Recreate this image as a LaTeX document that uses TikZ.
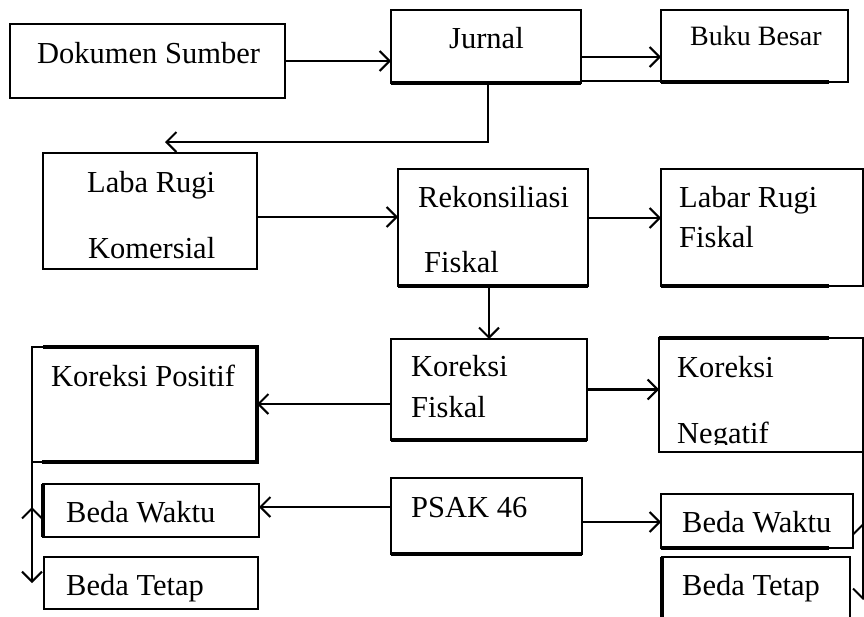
\documentclass[tikz,border=0pt]{standalone}
\usepackage{fontspec}
\setmainfont{Liberation Serif}
\usetikzlibrary{arrows.meta,calc,fit}
\begin{document}
\begin{tikzpicture}[x=1pt,y=-1pt,
  box/.style={draw, line width=1.6pt, inner sep=0pt, outer sep=0pt},
  boldbox/.style={box, line width=2.8pt},
  heavy/.style={line width=3.8pt},
  txt/.style={font=\fontsize{30.5}{36}\selectfont, inner sep=0pt, anchor=base west},
  arr/.style={line width=2.2pt, -{Straight Barb[length=10pt,width=20pt,line width=2pt]}},
  ln/.style={line width=2pt}]
\useasboundingbox (0,0) rectangle (864,616);
\clip (0,0) rectangle (864,616);

% boxes
\node[boldbox, fit={(10,24) (285,98)}] (dok) {};
\node[box, fit={(391,10) (581,83)}] (jur) {};
\node[box, fit={(661,10) (848,82)}] (buku) {};
\node[boldbox, fit={(43,153) (257,269)}] (lrk) {};
\node[box, line width=2.2pt, fit={(398,169) (588,286)}] (rek) {};
\node[box, fit={(661,169) (863,286)}] (lrf) {};
\node[box, fit={(391,339) (587,440)}] (kf) {};
\node[box, fit={(32,347) (257,462)}] (kp) {};
\node[box, fit={(659,338) (863,452)}] (kn) {};
\node[box, line width=2.6pt, fit={(391,478) (582,554)}] (psak) {};
\node[box, line width=2pt, fit={(43,484) (259,537)}] (bwl) {};
\node[box, line width=2pt, fit={(44,557) (258,609)}] (btl) {};
\node[box, line width=2pt, fit={(661,494) (853,548)}] (bwr) {};
\node[box, line width=2pt, fit={(662,557) (850,640)}] (btr) {};

% heavy edges
\draw[heavy] (jur.south west) -- (jur.south east);
\draw[heavy] (buku.south west) -- ($(buku.south west)+(168,0)$);
\draw[heavy] (rek.south west) -- (rek.south east);
\draw[heavy] (lrf.south west) -- ($(lrf.south west)+(168,0)$);
\draw[heavy] (kf.south west) -- (kf.south east);
\draw[heavy] ($(kp.north west)+(11,0)$) -- (kp.north east) -- (kp.south east) -- ($(kp.south west)+(10,0)$);
\draw[heavy] (kn.north west) -- ($(kn.north west)+(170,0)$);
\draw[heavy] (psak.south west) -- (psak.south east);
\draw[heavy] (bwl.north west) -- (bwl.south west);
\draw[heavy] (bwr.south west) -- ($(bwr.south west)+(168,0)$);
\draw[heavy] (btr.north west) -- (btr.south west);

% texts
\node[txt] (t-dok) at (37,63) {Dokumen Sumber};
\node[txt] (t-jur) at (449,48) {Jurnal};
\node[txt, font=\fontsize{28}{33}\selectfont] (t-buku) at (690,45) {Buku Besar};
\node[txt] (t-lrk1) at (87,192) {Laba Rugi};
\node[txt] (t-lrk2) at (88,258) {Komersial};
\node[txt] (t-rek1) at (418,207) {Rekonsiliasi};
\node[txt] (t-rek2) at (424,272) {Fiskal};
\node[txt] (t-lrf1) at (679,207) {Labar Rugi};
\node[txt] (t-lrf2) at (679,247) {Fiskal};
\node[txt] (t-kf1) at (411,376) {Koreksi};
\node[txt] (t-kf2) at (411,417) {Fiskal};
\node[txt] (t-kp) at (51,386) {Koreksi Positif};
\node[txt] (t-kn1) at (677,377) {Koreksi};
\begin{scope}
\clip (659,338) rectangle (863,444);
\node[txt] (t-kn2) at (677,443) {Negatif};
\end{scope}
\node[txt] (t-psak) at (411,517) {PSAK 46};
\node[txt] (t-bwl) at (66,522) {Beda Waktu};
\node[txt] (t-btl) at (66,595) {Beda Tetap};
\node[txt] (t-bwr) at (682,532) {Beda Waktu};
\node[txt] (t-btr) at (682,595) {Beda Tetap};

% connectors
\draw[arr] (dok.east) -- (dok.east -| jur.west);
\coordinate (a1) at ($(jur.east)+(0,10.5)$);
\draw[arr] (a1) -- (a1 -| buku.west);
\coordinate (a2) at ($(jur.south east)+(0,-2)$);
\draw[ln] (a2) -- (a2 -| buku.west);
\coordinate (j1) at ($(jur.south)+(2,0)$);
\coordinate (c1) at (165,142);
\draw[arr] (j1) |- (c1);
\coordinate (a3) at ($(lrk.east)+(0,6)$);
\draw[arr] (a3) -- (a3 -| rek.west);
\coordinate (a4) at ($(rek.east)+(0,-9.5)$);
\draw[arr] (a4) -- (a4 -| lrf.west);
\draw[arr] (rek.south -| kf.north) -- (kf.north);
\coordinate (a5) at ($(kf.west)+(0,14.5)$);
\draw[arr] (a5) -- (a5 -| kp.east);
\draw[arr] (kf.east) -- (kf.east -| kn.west);
\coordinate (a6) at ($(psak.west)+(0,-9)$);
\draw[arr] (a6) -- (a6 -| bwl.east);
\coordinate (a7) at ($(psak.east)+(0,6)$);
\draw[arr] (a7) -- (a7 -| bwr.west);
% left vertical
\coordinate (v1) at (32,583);
\coordinate (v2) at (32,530);
\coordinate (v3) at (32,507);
\draw[arr] (kp.south west) -- (v1);
\draw[arr] (v2) -- (v3);
% right vertical
\coordinate (w1) at (863,600);
\coordinate (w2) at (863,545);
\coordinate (w3) at (863,523);
\draw[arr] (kn.south east) -- (w1);
\draw[arr] (w2) -- (w3);
\end{tikzpicture}
\end{document}
